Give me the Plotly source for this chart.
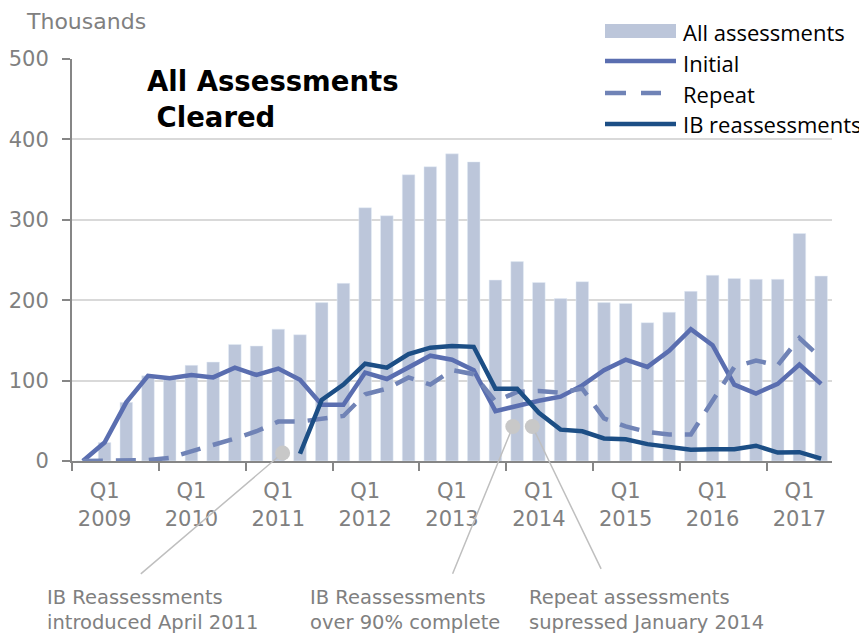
import plotly.graph_objects as go

# quarters from Q4 2008 to Q2 2017
quarters = [
    "Q4 2008",
    "Q1 2009", "Q2 2009", "Q3 2009", "Q4 2009",
    "Q1 2010", "Q2 2010", "Q3 2010", "Q4 2010",
    "Q1 2011", "Q2 2011", "Q3 2011", "Q4 2011",
    "Q1 2012", "Q2 2012", "Q3 2012", "Q4 2012",
    "Q1 2013", "Q2 2013", "Q3 2013", "Q4 2013",
    "Q1 2014", "Q2 2014", "Q3 2014", "Q4 2014",
    "Q1 2015", "Q2 2015", "Q3 2015", "Q4 2015",
    "Q1 2016", "Q2 2016", "Q3 2016", "Q4 2016",
    "Q1 2017", "Q2 2017",
]

# thousands
all_assessments = [0, 23, 73, 106, 103, 119, 123, 145, 143, 164, 157, 197, 221,
                   315, 305, 356, 366, 382, 372, 225, 248, 222, 202, 223, 197,
                   196, 172, 185, 211, 231, 227, 226, 226, 283, 230]
initial = [0, 23, 73, 106, 103, 107, 104, 116, 107, 115, 101, 70, 70,
           110, 102, 117, 131, 126, 113, 62, 69, 75, 80, 94, 113,
           126, 117, 137, 164, 144, 95, 84, 96, 120, 96]
repeat = [0, 0, 0, 1, 4, 12, 19, 28, 37, 49, 49, 53, 56,
          83, 90, 104, 95, 113, 108, 74, 86, 87, 85, 90, 53,
          43, 36, 33, 33, 75, 117, 125, 119, 153, 128]
ib_reassessments = [None, None, None, None, None, None, None, None, None, None, 9, 76, 95,
                    121, 116, 133, 141, 143, 142, 90, 90, 60, 39, 37, 28,
                    27, 21, 17, 14, 14.5, 14.5, 19, 10.5, 11, 3]

# callout markers (quarter position, value) and where their leader lines end
callout_x = [9.2, 19.8, 20.7]
callout_y = [10, 43, 43]
callout_tail_x = [2.6, 17.0, 23.9]
callout_tail_y = [-142, -142, -136]
callout_text = [
    "IB Reassessments<br>introduced April 2011",
    "IB Reassessments<br>over 90% complete",
    "Repeat assessments<br>supressed January 2014",
]

series_names = ["All assessments", "Initial", "Repeat", "IB reassessments"]

x = list(range(len(quarters)))
q1_pos = [i for i, q in enumerate(quarters) if q.startswith("Q1")]
q1_text = [quarters[i].replace(" ", "<br>") for i in q1_pos]
year_bounds = [i - 1.5 for i in q1_pos]

GREY = "#808080"
AXIS = "#868686"
BAR = "#bcc6da"
C_INIT = "#5a6eb0"
C_REP = "#7083b6"
C_IB = "#1c4e85"
FONT = "DejaVu Sans"

# page body adds an 8px margin, so the figure is 8px smaller and shifted
OFF = 8
FW, FH = 867 - OFF, 633 - OFF
L, T = 72 - OFF, 59 - OFF
R, B = FW - (832 - OFF), FH - (461 - OFF)
W, H = FW - L - R, FH - T - B


def px(xp):
    # screen x of the target picture -> paper fraction
    return (xp - OFF - L) / W


def py(yp):
    return (FH - B - (yp - OFF)) / H


fig = go.Figure()
fig.add_trace(go.Bar(x=x, y=all_assessments, name=series_names[0],
                     marker_color=BAR, width=0.58))
fig.add_trace(go.Scatter(x=x, y=initial, mode="lines", name=series_names[1],
                         line=dict(color=C_INIT, width=4.5)))
fig.add_trace(go.Scatter(x=x, y=repeat, mode="lines", name=series_names[2],
                         line=dict(color=C_REP, width=4.5, dash="20px,13px")))
fig.add_trace(go.Scatter(x=x, y=ib_reassessments, mode="lines", name=series_names[3],
                         line=dict(color=C_IB, width=4.5)))
fig.add_trace(go.Scatter(x=callout_x, y=callout_y, mode="markers", showlegend=False,
                         marker=dict(size=15, color="#c8c8c8"), cliponaxis=False))

for cx, cy, tx, ty in zip(callout_x, callout_y, callout_tail_x, callout_tail_y):
    fig.add_annotation(x=cx, y=cy, ax=tx, ay=ty, axref="x", ayref="y", text="",
                       showarrow=True, arrowhead=0, arrowwidth=1.5,
                       arrowcolor="#bfbfbf", standoff=7)

for t, xl in zip(callout_text, [45, 308, 527]):
    fig.add_annotation(x=px(xl), y=py(584), xref="paper", yref="paper", text=t,
                       showarrow=False, xanchor="left", yanchor="top", align="left",
                       font=dict(family=FONT, size=19.5, color=GREY))

fig.add_annotation(x=px(24), y=py(21), xref="paper", yref="paper", text="Thousands",
                   showarrow=False, xanchor="left", yanchor="middle",
                   font=dict(family=FONT, size=22, color=GREY))
fig.add_annotation(x=px(145), y=py(63), xref="paper", yref="paper",
                   text="<b>All Assessments</b><br><b>\u00a0Cleared</b>",
                   showarrow=False, xanchor="left", yanchor="top", align="left",
                   font=dict(family=FONT, size=27.5, color="black"))

# legend drawn by hand to get the wide Excel-style keys
key_style = [
    dict(type="rect", y0=py(24), y1=py(38), fillcolor=BAR, line_width=0),
    dict(type="line", y0=py(61), y1=py(61), line=dict(color=C_INIT, width=4.5)),
    dict(type="line", y0=py(93), y1=py(93), line=dict(color=C_REP, width=4.5, dash="21px,15px")),
    dict(type="line", y0=py(124), y1=py(124), line=dict(color=C_IB, width=4.5)),
]
for k, (name, shp, ty) in enumerate(zip(series_names, key_style, [32, 63, 94, 124])):
    x1 = 661 if k == 2 else 676
    fig.add_shape(x0=px(605), x1=px(x1), xref="paper", yref="paper", **shp)
    fig.add_annotation(x=px(681), y=py(ty), xref="paper", yref="paper", text=name,
                       showarrow=False, xanchor="left", yanchor="middle",
                       font=dict(family="Open Sans", size=22, color="black"))

fig.update_layout(
    width=FW, height=FH,
    margin=dict(l=L, r=R, t=T, b=B, autoexpand=False),
    plot_bgcolor="white",
    paper_bgcolor="white",
    font=dict(family=FONT),
    showlegend=False,
    xaxis=dict(range=[-0.5, 34.5], tickvals=q1_pos, ticktext=q1_text,
               tickfont=dict(size=21, color=GREY), showgrid=False, zeroline=False,
               showline=True, linecolor=AXIS, linewidth=2,
               ticks="outside", ticklen=0, ticklabelstandoff=10,
               minor=dict(tickvals=year_bounds, ticks="outside", ticklen=8,
                          tickcolor=AXIS, tickwidth=2)),
    yaxis=dict(range=[0, 500], dtick=100, showgrid=True, gridcolor="#d9d9d9",
               gridwidth=2, zeroline=False, showline=True, linecolor=AXIS,
               linewidth=2, ticks="outside", ticklen=8, tickcolor=AXIS, tickwidth=2,
               ticklabelstandoff=9, tickfont=dict(size=21, color=GREY)),
)

fig.write_html("out.html")
